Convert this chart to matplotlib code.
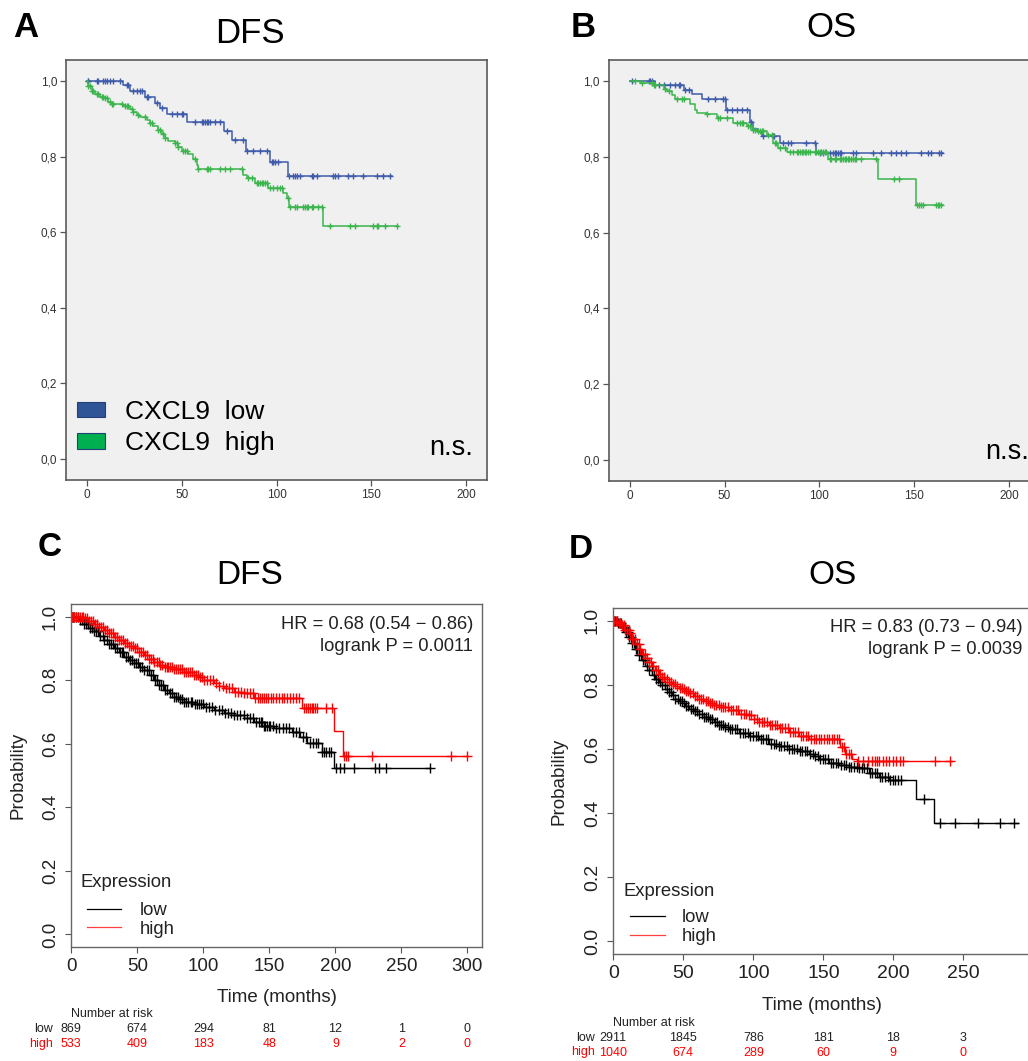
import numpy as np
import matplotlib
matplotlib.use('Agg')
import matplotlib.pyplot as plt
from matplotlib.patches import Patch
from matplotlib.lines import Line2D
from matplotlib import transforms

plt.rcParams['font.family'] = ['Liberation Sans', 'DejaVu Sans']

W, H = 1028, 1061

# ---------------- Panel A : DFS (SPSS) ----------------
a_low_t = [0, 19.2, 22.7, 30.6, 35.9, 38.5, 42.4, 52.6, 72.3, 76.3, 83.7, 96.6, 106.2]
a_low_s = [1.0, 0.990, 0.973, 0.959, 0.943, 0.929, 0.913, 0.893, 0.868, 0.843, 0.816, 0.786, 0.749]
a_low_end = 160.8
a_low_cens = [0.3, 0.7, 5.1, 6.0, 8.6, 9.5, 10.4, 12.1, 13.9, 17.4, 20.9, 21.8, 24.4, 26.2, 28.0,
              28.8, 31.5, 32.4, 36.8, 39.4, 44.7, 47.3, 50.0, 50.8, 57.0, 60.5, 61.4, 62.3, 63.2,
              64.0, 64.9, 67.6, 70.2, 73.7, 78.1, 82.5, 84.3, 87.8, 91.3, 94.8, 97.4, 98.3, 99.2,
              100.9, 106.5, 108.9, 109.8, 110.7, 112.4, 118.6, 119.4, 121.2, 130.0, 130.9, 132.6,
              137.9, 140.6, 145.9, 152.9, 156.4, 159.9]

a_high_t = [0, 0.7, 2.5, 4.2, 6.9, 9.5, 11.3, 13.0, 19.2, 22.7, 24.4, 26.2, 28.0, 31.5, 33.2,
            35.0, 37.6, 39.4, 41.2, 42.9, 46.4, 48.2, 50.0, 53.5, 56.1, 57.9, 58.6, 82.5, 84.3,
            88.6, 95.7, 103.6, 105.4, 106.8, 124.7]
a_high_s = [1.0, 0.986, 0.975, 0.966, 0.959, 0.955, 0.946, 0.939, 0.933, 0.926, 0.917, 0.911,
            0.905, 0.898, 0.889, 0.882, 0.871, 0.860, 0.849, 0.842, 0.836, 0.825, 0.814, 0.808,
            0.793, 0.778, 0.767, 0.752, 0.743, 0.730, 0.717, 0.704, 0.690, 0.668, 0.617]
a_high_end = 164.3
a_high_cens = [0.7, 1.6, 2.5, 3.3, 5.1, 6.0, 7.7, 8.6, 9.5, 10.4, 12.1, 13.0, 13.9, 18.3, 20.1,
               20.9, 21.8, 23.6, 24.4, 27.1, 30.6, 33.2, 34.1, 37.6, 38.5, 40.3, 41.2, 46.4, 47.3,
               48.2, 50.8, 51.7, 52.6, 57.0, 58.8, 63.2, 64.0, 64.9, 70.2, 72.8, 75.5, 81.6, 85.1,
               86.9, 89.5, 90.4, 91.3, 92.2, 93.1, 93.9, 94.8, 96.6, 98.3, 100.1, 101.8, 102.7,
               106.2, 107.1, 109.8, 110.7, 114.2, 115.1, 115.9, 116.8, 118.6, 119.4, 122.1, 123.8,
               128.2, 138.8, 141.4, 151.1, 152.9, 153.7, 157.3, 163.4]

# ---------------- Panel B : OS (SPSS) ----------------
b_low_t = [0, 13.5, 28.4, 32.8, 38.0, 50.8, 63.4, 65.2, 67.8, 69.5, 79.2, 98.4]
b_low_s = [1.0, 0.989, 0.978, 0.965, 0.952, 0.924, 0.893, 0.875, 0.867, 0.855, 0.838, 0.811]
b_low_end = 165.0
b_low_cens = [1.2, 10.0, 10.9, 11.7, 15.3, 17.9, 21.4, 24.0, 25.8, 26.6, 29.3, 31.0, 41.5, 45.0,
              49.4, 50.3, 51.1, 53.8, 56.4, 59.0, 61.7, 63.9, 70.4, 75.7, 76.0, 80.9, 83.5, 85.3,
              93.2, 97.5, 100.2, 101.9, 105.4, 107.2, 108.1, 108.9, 109.8, 110.7, 111.6, 117.7,
              119.4, 128.2, 132.6, 137.9, 140.5, 143.1, 145.7, 153.6, 157.1, 158.8, 163.2, 164.1]

b_high_t = [0, 5.6, 12.6, 17.9, 19.6, 22.3, 24.0, 31.9, 34.5, 35.7, 40.6, 45.9, 54.6, 61.7,
            64.3, 66.9, 72.2, 75.7, 78.3, 82.7, 104.6, 130.9, 151.0]
b_high_s = [1.0, 0.996, 0.989, 0.980, 0.974, 0.963, 0.954, 0.941, 0.924, 0.917, 0.913, 0.904,
            0.889, 0.881, 0.872, 0.868, 0.858, 0.836, 0.823, 0.814, 0.794, 0.741, 0.674]
b_high_end = 165.0
b_high_cens = [3.0, 6.5, 11.7, 12.6, 13.5, 18.8, 20.5, 24.9, 27.5, 28.4, 40.6, 46.8, 47.6, 51.1,
               56.4, 58.2, 59.0, 59.9, 62.5, 63.4, 65.2, 66.0, 67.8, 68.7, 69.5, 70.4, 73.0, 74.8,
               76.5, 77.4, 79.2, 81.8, 84.4, 86.2, 88.0, 88.8, 89.7, 90.6, 91.4, 92.3, 93.2, 94.0,
               94.9, 97.5, 98.4, 99.3, 100.2, 101.1, 101.9, 102.8, 103.7, 105.4, 106.3, 108.1,
               108.9, 110.7, 111.6, 112.5, 113.3, 114.2, 115.1, 115.9, 116.8, 117.7, 118.6, 119.4,
               122.1, 130.0, 139.6, 142.2, 151.3, 152.7, 153.6, 154.5, 161.5, 162.4, 163.2, 164.1]

# ---------------- Panel C : DFS (KM plotter) ----------------
c_low_t = [0, 1.8, 5.5, 9.3, 13.0, 16.9, 20.7, 24.5, 28.3, 32.1, 35.9, 39.6, 43.4, 47.2, 51.0,
           54.8, 58.6, 62.4, 66.2, 70.0, 73.8, 77.5, 81.3, 85.1, 92.7, 100.3, 107.8, 115.4, 123.0,
           130.6, 138.1, 145.7, 153.3, 167.2, 173.5, 178.5, 189.9, 198.7]
c_low_s = [1.0, 0.998, 0.990, 0.978, 0.965, 0.953, 0.939, 0.926, 0.913, 0.900, 0.887, 0.874,
           0.864, 0.853, 0.842, 0.832, 0.817, 0.801, 0.785, 0.769, 0.758, 0.748, 0.740, 0.732,
           0.725, 0.716, 0.706, 0.698, 0.690, 0.682, 0.667, 0.657, 0.648, 0.637, 0.622, 0.601,
           0.574, 0.525]
c_low_end = 272.0
c_low_cens = [0.5, 1.2, 2.4, 3.8, 5.0, 6.6, 8.1, 9.5, 11.2, 12.6, 14.3, 15.9, 17.2, 19.0, 20.4,
              22.1, 23.7, 25.0, 26.8, 28.5, 29.9, 31.6, 33.0, 34.8, 36.5, 38.1, 39.4, 41.2, 42.7,
              44.4, 45.8, 47.5, 49.1, 50.6, 52.3, 53.7, 55.4, 57.0, 58.5, 60.2, 61.6, 63.3, 64.8,
              66.5, 68.0, 69.6, 71.3, 72.8, 74.4, 76.0, 77.5, 79.1, 80.8, 82.2, 83.9, 85.5, 87.0,
              88.6, 90.3, 91.7, 93.4, 95.0, 96.5, 98.1, 99.8, 102.0, 104.5, 106.8, 109.0, 111.6,
              113.9, 116.2, 118.5, 120.9, 123.3, 125.6, 128.0, 130.4, 132.8, 135.1, 137.5, 139.8,
              142.0, 143.5, 144.6, 145.8, 147.0, 148.2, 149.4, 150.6, 152.5, 155.0, 157.6, 160.1,
              162.7, 165.2, 167.8, 170.3, 172.6, 175.4, 178.0, 180.6, 183.2, 185.0, 186.9, 190.1,
              191.6, 193.0, 195.2, 196.6, 200.5, 203.1, 206.4, 214.0, 230.2, 233.1, 238.5, 271.3]

c_high_t = [0, 5.5, 9.3, 13.0, 16.9, 20.7, 24.5, 28.3, 32.1, 35.9, 39.6, 43.4, 47.2, 51.0, 54.8,
            58.6, 62.4, 66.2, 70.0, 77.5, 85.1, 92.7, 96.5, 100.3, 107.8, 111.6, 115.4, 123.0,
            130.6, 138.1, 174.7, 198.7, 205.8]
c_high_s = [1.0, 0.998, 0.994, 0.986, 0.978, 0.968, 0.957, 0.948, 0.937, 0.927, 0.916, 0.908,
            0.900, 0.889, 0.879, 0.867, 0.856, 0.849, 0.842, 0.835, 0.826, 0.817, 0.809, 0.801,
            0.790, 0.782, 0.774, 0.763, 0.758, 0.745, 0.713, 0.641, 0.562]
c_high_end = 299.7
c_high_cens = [0.3, 1.0, 2.2, 3.5, 4.9, 6.3, 7.8, 9.2, 10.6, 12.1, 13.7, 15.0, 16.6, 18.1, 19.5,
               21.0, 22.6, 24.1, 25.5, 27.0, 28.6, 30.1, 31.5, 33.0, 34.6, 36.1, 37.5, 39.0, 40.6,
               42.1, 43.5, 45.0, 46.6, 48.1, 49.5, 51.0, 52.6, 54.1, 55.5, 57.0, 58.6, 60.1, 61.5,
               63.0, 64.6, 66.1, 67.5, 69.0, 70.6, 72.1, 73.5, 75.0, 76.6, 78.1, 79.5, 81.0, 82.6,
               84.1, 85.5, 87.0, 88.6, 90.1, 91.5, 93.0, 94.6, 96.1, 97.5, 99.0, 100.6, 102.8,
               105.1, 107.4, 109.8, 112.1, 114.5, 116.8, 119.2, 121.5, 123.9, 126.2, 128.6, 130.9,
               133.3, 135.6, 137.9, 139.3, 141.0, 142.6, 144.3, 146.0, 147.7, 149.3, 151.0, 152.9,
               155.1, 157.0, 159.2, 161.4, 163.5, 165.6, 167.8, 170.0, 172.1, 176.1, 177.5, 179.0,
               180.4, 181.9, 183.3, 184.8, 186.2, 193.0, 197.1, 206.6, 208.0, 209.6, 228.0, 287.2,
               299.5]

c_risk_times = [0, 50, 100, 150, 200, 250, 300]
c_risk_low = [869, 674, 294, 81, 12, 1, 0]
c_risk_high = [533, 409, 183, 48, 9, 2, 0]

# ---------------- Panel D : OS (KM plotter) ----------------
d_low_t = [0, 3.0, 6.2, 8.6, 11.0, 13.3, 15.7, 18.1, 20.5, 22.9, 25.3, 27.6, 30.0, 32.4, 34.8,
           37.1, 39.5, 41.9, 44.3, 46.7, 49.1, 51.5, 53.8, 57.4, 61.0, 64.5, 68.1, 71.7, 75.3,
           78.8, 82.4, 89.5, 96.7, 103.8, 111.0, 118.1, 125.3, 132.4, 139.5, 143.1, 146.7, 153.8,
           161.0, 168.1, 175.3, 182.4, 189.5, 196.7, 216.2, 228.8]
d_low_s = [1.0, 0.992, 0.980, 0.965, 0.949, 0.931, 0.912, 0.894, 0.876, 0.860, 0.845, 0.832,
           0.819, 0.808, 0.798, 0.787, 0.777, 0.767, 0.757, 0.749, 0.742, 0.734, 0.726, 0.718,
           0.710, 0.701, 0.692, 0.683, 0.674, 0.667, 0.661, 0.651, 0.640, 0.630, 0.617, 0.610,
           0.601, 0.593, 0.585, 0.577, 0.569, 0.555, 0.550, 0.544, 0.541, 0.526, 0.514, 0.503,
           0.444, 0.370]
d_low_end = 289.0
d_low_cens = [0.4, 1.3, 2.4, 3.5, 4.6, 5.8, 6.9, 8.0, 9.1, 10.3, 11.4, 12.5, 13.7, 14.8, 15.9,
              17.1, 18.2, 19.6, 21.1, 22.7, 24.2, 25.8, 27.3, 28.9, 30.4, 32.0, 33.5, 35.1, 36.6,
              38.2, 39.7, 41.3, 42.8, 44.4, 45.9, 47.5, 49.0, 50.6, 52.1, 53.7, 55.2, 56.8, 58.3,
              59.9, 61.4, 63.0, 64.5, 66.1, 67.6, 69.2, 70.7, 72.3, 73.8, 75.4, 76.9, 78.5, 80.0,
              81.6, 83.1, 84.9, 86.8, 88.6, 90.5, 92.3, 94.2, 96.0, 97.9, 99.7, 101.6, 103.4,
              105.3, 107.1, 109.0, 110.8, 112.7, 114.5, 116.4, 118.2, 120.1, 121.9, 123.8, 125.6,
              127.5, 129.3, 131.2, 133.0, 134.9, 136.7, 138.6, 140.4, 142.3, 144.1, 146.0, 147.8,
              149.7, 151.5, 153.4, 155.2, 157.1, 158.9, 160.8, 162.6, 164.5, 166.3, 168.2, 170.0,
              171.9, 173.7, 175.6, 177.4, 179.3, 181.1, 183.0, 184.8, 186.7, 188.5, 190.4, 192.2,
              194.1, 195.9, 197.8, 199.6, 201.5, 203.3, 205.2, 222.0, 233.1, 244.0, 260.2, 276.5,
              286.0]

d_high_t = [0, 3.0, 6.2, 8.6, 11.0, 13.3, 15.7, 18.1, 20.5, 22.9, 25.3, 27.6, 30.0, 32.4, 34.8,
            37.1, 39.5, 41.9, 44.3, 46.7, 49.1, 51.5, 53.8, 57.4, 61.0, 64.5, 68.1, 71.7, 75.3,
            82.4, 89.5, 96.7, 100.3, 103.8, 111.0, 118.1, 125.3, 132.4, 139.5, 162.2, 165.7,
            170.5, 174.1]
d_high_s = [1.0, 0.994, 0.985, 0.972, 0.960, 0.944, 0.928, 0.912, 0.897, 0.884, 0.871, 0.858,
            0.845, 0.834, 0.825, 0.817, 0.809, 0.802, 0.796, 0.791, 0.786, 0.780, 0.775, 0.765,
            0.757, 0.749, 0.742, 0.736, 0.731, 0.720, 0.710, 0.705, 0.694, 0.685, 0.674, 0.664,
            0.653, 0.640, 0.632, 0.607, 0.583, 0.570, 0.561]
d_high_end = 242.0
d_high_cens = [0.5, 1.6, 2.8, 3.9, 5.1, 6.3, 7.4, 8.6, 9.8, 10.9, 12.1, 13.3, 14.4, 15.6, 16.8,
               18.0, 19.4, 20.9, 22.5, 24.0, 25.6, 27.1, 28.7, 30.2, 31.8, 33.3, 34.9, 36.4, 38.0,
               39.5, 41.1, 42.6, 44.2, 45.7, 47.3, 48.8, 50.4, 51.9, 53.5, 55.0, 56.6, 58.1, 59.7,
               61.2, 62.8, 64.3, 65.9, 67.4, 69.0, 70.5, 72.1, 73.6, 75.2, 76.7, 78.3, 80.1, 82.0,
               83.8, 85.7, 87.5, 89.4, 91.2, 93.1, 94.9, 96.8, 98.6, 100.5, 102.3, 104.2, 106.0,
               107.9, 109.7, 111.6, 113.4, 115.3, 117.1, 119.0, 120.8, 122.7, 124.5, 126.4, 128.2,
               130.1, 131.9, 133.8, 135.6, 137.5, 139.3, 141.2, 143.0, 144.9, 146.7, 148.6, 150.4,
               152.3, 154.1, 156.0, 157.8, 159.7, 161.3, 163.0, 164.5, 166.0, 168.0, 170.0, 175.0,
               178.5, 182.0, 184.5, 187.0, 188.0, 190.0, 192.5, 195.0, 197.0, 199.5, 202.0, 204.5,
               207.0, 229.4, 240.7]

d_risk_times = [0, 50, 100, 150, 200, 250]
d_risk_low = [2911, 1845, 786, 181, 18, 3]
d_risk_high = [1040, 674, 289, 60, 9, 0]

# ---------------- Labels ----------------
ab_xticks = [0, 50, 100, 150, 200]
ab_yticks = [0.0, 0.2, 0.4, 0.6, 0.8, 1.0]
ab_yticklabels = ['0,0', '0,2', '0,4', '0,6', '0,8', '1,0']
cd_yticks = [0.0, 0.2, 0.4, 0.6, 0.8, 1.0]
cd_yticklabels = ['0.0', '0.2', '0.4', '0.6', '0.8', '1.0']
c_xticks = [0, 50, 100, 150, 200, 250, 300]
d_xticks = [0, 50, 100, 150, 200, 250]

BLUE_LINE, GREEN_LINE = '#3f5cab', '#3cb54e'
BLUE_PATCH, GREEN_PATCH = '#2f5597', '#00b050'

# ---------------- Figure ----------------
fig = plt.figure(figsize=(W / 100, H / 100), dpi=100)


def rect(l, t, r, b):
    return [l / W, 1 - b / H, (r - l) / W, (b - t) / H]


def ftext(x, y, s, **kw):
    return fig.text(x / W, 1 - y / H, s, **kw)


def km(ax, t, s, end, cens, color, lw, ms, mew):
    t = np.asarray(t, float)
    s = np.asarray(s, float)
    ax.step(np.r_[t, end], np.r_[s, s[-1]], where='post', color=color, lw=lw)
    c = np.asarray(cens, float)
    idx = np.searchsorted(t, c, side='right') - 1
    ax.plot(c, s[idx], ls='none', marker='+', ms=ms, mew=mew, color=color)


C_L, C_T, C_R, C_B = 71.3, 603.8, 482.0, 947.2
D_L, D_T, D_R, D_B = 613.3, 607.8, 1030.7, 954.3

axA = fig.add_axes(rect(66, 60, 487, 480))
axB = fig.add_axes(rect(608.7, 60, 1030.0, 481))
axC = fig.add_axes(rect(C_L, C_T, C_R, C_B))
axD = fig.add_axes(rect(D_L, D_T, D_R, D_B))

# ----- SPSS panels -----
for ax in (axA, axB):
    ax.set_facecolor('#f0f0f0')
    ax.set_xlim(-11.1, 211.1)
    ax.set_ylim(-0.056, 1.056)
    ax.set_xticks(ab_xticks, labels=[str(v) for v in ab_xticks])
    ax.set_yticks(ab_yticks, labels=ab_yticklabels)
    ax.tick_params(direction='out', length=4.3, width=0.9, color='#555555',
                   labelsize=8.5, labelcolor='#333333', pad=2)
    for sp in ax.spines.values():
        sp.set_color('#5a5a5a')
        sp.set_linewidth(1.2)

km(axA, a_low_t, a_low_s, a_low_end, a_low_cens, BLUE_LINE, 1.1, 5, 1.0)
km(axA, a_high_t, a_high_s, a_high_end, a_high_cens, GREEN_LINE, 1.1, 5, 1.0)
km(axB, b_low_t, b_low_s, b_low_end, b_low_cens, BLUE_LINE, 1.1, 5, 1.0)
km(axB, b_high_t, b_high_s, b_high_end, b_high_cens, GREEN_LINE, 1.1, 5, 1.0)

handles = [Patch(facecolor=BLUE_PATCH, edgecolor='#24407a', lw=0.8),
           Patch(facecolor=GREEN_PATCH, edgecolor='#24407a', lw=0.8)]
axA.legend(handles, ['CXCL9  low', 'CXCL9  high'], loc='center left',
           bbox_to_anchor=(0.0270, 0.125), frameon=False, fontsize=19,
           handlelength=1.05, handleheight=0.55, handletextpad=0.75,
           labelspacing=0.28, borderpad=0, borderaxespad=0)

axA.text(0.967, 0.06, 'n.s.', transform=axA.transAxes, ha='right', va='baseline', fontsize=19.5)
axB.text(0.893, 0.0515, 'n.s.', transform=axB.transAxes, ha='left', va='baseline', fontsize=19.5)

# ----- KM plotter panels -----
for ax, xmax, xt, tsize in ((axC, 311.0, c_xticks, 13.5), (axD, 298.1, d_xticks, 14)):
    ax.set_xlim(0, xmax)
    ax.set_ylim(-0.04, 1.04)
    ax.set_xticks(xt, labels=[str(v) for v in xt])
    ax.set_yticks(cd_yticks, labels=cd_yticklabels, rotation=90, va='center')
    ax.tick_params(direction='out', length=4, width=0.8, color='#555555',
                   labelsize=tsize, labelcolor='#222222')
    ax.tick_params(axis='y', pad=5)
    ax.tick_params(axis='x', pad=4)
    for sp in ax.spines.values():
        sp.set_color('#666666')
        sp.set_linewidth(1.0)
    ax.set_xlabel('Time (months)', fontsize=13.5, color='#222222')
    ax.set_ylabel('Probability', fontsize=13.5, color='#222222')
    ax.xaxis.label.set_va('center')
    ax.yaxis.label.set_va('center')
    ax.yaxis.label.set_rotation_mode('default')

axC.xaxis.set_label_coords(0.5, (C_B - 998.0) / (C_B - C_T))
axC.yaxis.set_label_coords((17.5 - C_L) / (C_R - C_L), 0.5)
axD.xaxis.set_label_coords(0.5, (D_B - 1005.8) / (D_B - D_T))
axD.yaxis.set_label_coords((559 - D_L) / (D_R - D_L), 0.5)

km(axC, c_low_t, c_low_s, c_low_end, c_low_cens, 'black', 1.0, 7, 1.0)
km(axC, c_high_t, c_high_s, c_high_end, c_high_cens, 'red', 1.0, 7, 1.0)
km(axD, d_low_t, d_low_s, d_low_end, d_low_cens, 'black', 1.0, 7, 1.0)
km(axD, d_high_t, d_high_s, d_high_end, d_high_cens, 'red', 1.0, 7, 1.0)

for ax, (L, T, R, B), ex, ebase, lx, ltop, lsp, hl, tp in (
        (axC, (C_L, C_T, C_R, C_B), 80.7, 887.3, 86.7, 902.3, 0.085, 1.88, 0.97),
        (axD, (D_L, D_T, D_R, D_B), 623.3, 895.7, 630.0, 909.0, 0.13, 1.90, 0.92)):
    ax.text((ex - L) / (R - L), (B - ebase) / (B - T), 'Expression', transform=ax.transAxes,
            ha='left', va='baseline', fontsize=13.3, color='#222222')
    ax.legend([Line2D([], [], color='black', lw=0.9), Line2D([], [], color='#ff4040', lw=0.9)],
              ['low', 'high'], loc='upper left',
              bbox_to_anchor=((lx - L) / (R - L), (B - ltop) / (B - T)), frameon=False,
              fontsize=13.3, handlelength=hl, handletextpad=tp, labelspacing=lsp,
              borderpad=0, borderaxespad=0, labelcolor='#222222')

ftext(473, 628.9, 'HR = 0.68 (0.54 \u2212 0.86)', ha='right', va='baseline', fontsize=13.2, color='#222222')
ftext(473, 650.9, 'logrank P = 0.0011', ha='right', va='baseline', fontsize=13.2, color='#222222')
ftext(1022.3, 632.3, 'HR = 0.83 (0.73 \u2212 0.94)', ha='right', va='baseline', fontsize=13.2, color='#222222')
ftext(1022.3, 654.3, 'logrank P = 0.0039', ha='right', va='baseline', fontsize=13.2, color='#222222')


def risk_table(ax, times, low, high, y_head, y_low, y_high):
    tr = transforms.blended_transform_factory(ax.transData, fig.transFigure)
    lab = transforms.offset_copy(tr, fig=fig, x=-18, y=0, units='dots')
    ax.text(times[0], 1 - y_head / H, 'Number at risk', transform=tr, ha='left', va='center',
            fontsize=9, color='#222222', clip_on=False)
    ax.text(times[0], 1 - y_low / H, 'low', transform=lab, ha='right', va='center',
            fontsize=9, color='#222222', clip_on=False)
    ax.text(times[0], 1 - y_high / H, 'high', transform=lab, ha='right', va='center',
            fontsize=9, color='red', clip_on=False)
    for t, nl, nh in zip(times, low, high):
        ax.text(t, 1 - y_low / H, str(nl), transform=tr, ha='center', va='center',
                fontsize=9, color='#222222', clip_on=False)
        ax.text(t, 1 - y_high / H, str(nh), transform=tr, ha='center', va='center',
                fontsize=9, color='red', clip_on=False)


risk_table(axC, c_risk_times, c_risk_low, c_risk_high, 1014.3, 1029.5, 1044.0)
risk_table(axD, d_risk_times, d_risk_low, d_risk_high, 1022.7, 1038.0, 1052.5)

# ----- Panel letters and titles -----
ftext(13, 37, 'A', fontsize=25, fontweight='bold', ha='left', va='baseline')
ftext(571, 37, 'B', fontsize=25, fontweight='bold', ha='left', va='baseline')
ftext(38, 556.4, 'C', fontsize=24, fontweight='bold', ha='left', va='baseline')
ftext(569, 557.8, 'D', fontsize=24, fontweight='bold', ha='left', va='baseline')
ftext(250, 43, 'DFS', fontsize=25, ha='center', va='baseline')
ftext(832, 37, 'OS', fontsize=25, ha='center', va='baseline')
ftext(250, 583.5, 'DFS', fontsize=24, ha='center', va='baseline')
ftext(832, 583.5, 'OS', fontsize=24, ha='center', va='baseline')

fig.savefig('out.png', dpi=100)
